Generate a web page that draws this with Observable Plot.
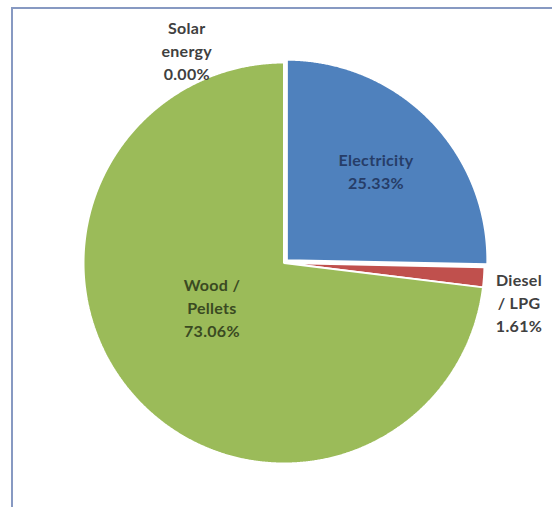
<!DOCTYPE html>
<html>
<head>
<meta charset="utf-8">
<script src="https://cdn.jsdelivr.net/npm/d3@7"></script>
<script src="https://cdn.jsdelivr.net/npm/@observablehq/plot@0.6"></script>
<style>
  html, body { margin: 0; padding: 0; background: #ffffff; }
  #chart { position: relative; width: 552px; height: 507px; overflow: hidden; }
  #chart svg { position: absolute; left: 0; top: 0; }
  #chart svg text { letter-spacing: 0.3px; }
  #chart .edge {
    position: absolute; left: 11px; top: 7px; right: -4px; bottom: -4px;
    border-left: 2px solid #8799c2; border-top: 2px solid #8799c2;
    pointer-events: none;
  }
</style>
</head>
<body>
<div id="chart"><div class="edge"></div></div>
<script>
// Heating energy sources, share of total (%)
const categories = ["Electricity", "Diesel / LPG", "Wood / Pellets", "Solar energy"];
const shares = [25.33, 1.61, 73.06, 0.00];
const labelLines = [["Electricity"], ["Diesel", "/ LPG"], ["Wood /", "Pellets"], ["Solar", "energy"]];

// Styling and label layout
const colors = ["#4f81bd", "#c0504d", "#9bbb59", "#8064a2"];
const labelColors = ["#263d68", "#404040", "#3a4a22", "#404040"];
const explode = [0.02, 0, 0, 0];          // slice pull-out, in radii
const labelRadius = [0.65, 1.17, 0.42, 1.055];
const labelNudge = [[-4, 1], [1, 22], [-9, -12], [-97, -2]]; // px
const R_PX = 200;                          // pie radius in pixels

const rows = categories.map((name, i) => ({name, share: shares[i], i}));
const arcs = d3.pie().sort(null).value(d => d.share)(rows);

// Slice polygons in unit-circle coordinates (angle 0 = 12 o'clock, clockwise)
const slices = arcs.filter(a => a.data.share > 0).map(a => {
  const i = a.data.i;
  const mid = (a.startAngle + a.endAngle) / 2;
  const ox = explode[i] * Math.sin(mid), oy = explode[i] * Math.cos(mid);
  const ring = [[ox, oy]];
  const n = Math.max(2, Math.ceil((a.endAngle - a.startAngle) / 0.005));
  for (let k = 0; k <= n; ++k) {
    const t = a.startAngle + (a.endAngle - a.startAngle) * k / n;
    ring.push([ox + Math.sin(t), oy + Math.cos(t)]);
  }
  ring.push([ox, oy]);
  return {type: "Feature", properties: {color: colors[i]}, geometry: {type: "Polygon", coordinates: [ring]}};
});

// Full circle used to fit the projection
const outline = {type: "Polygon", coordinates: [d3.range(0, 361, 2).map(d => [Math.sin(d * Math.PI / 180), Math.cos(d * Math.PI / 180)])]};

const labels = arcs.map(a => {
  const i = a.data.i;
  const mid = (a.startAngle + a.endAngle) / 2;
  const r = labelRadius[i];
  return {
    x: explode[i] * Math.sin(mid) + r * Math.sin(mid) + labelNudge[i][0] / R_PX,
    y: explode[i] * Math.cos(mid) + r * Math.cos(mid) - labelNudge[i][1] / R_PX,
    text: [...labelLines[i], d3.format(".2f")(a.data.share) + "%"].join("\n"),
    color: labelColors[i]
  };
});

const plot = Plot.plot({
  width: 552,
  height: 507,
  margin: 0,
  style: {background: "transparent", fontFamily: "Lato, 'DejaVu Sans', sans-serif"},
  color: {type: "identity"},
  projection: {
    type: "reflect-y",
    domain: outline,
    insetLeft: 83, insetRight: 68, insetTop: 62, insetBottom: 44
  },
  marks: [
    Plot.geo(slices, {fill: d => d.properties.color, stroke: "#ffffff", strokeWidth: 2, strokeLinejoin: "miter"}),
    Plot.text(labels, {
      x: "x", y: "y", text: "text", fill: "color",
      fontSize: 16, fontWeight: "bold", lineHeight: 1.45, textAnchor: "middle"
    })
  ]
});

document.getElementById("chart").prepend(plot);
</script>
</body>
</html>
